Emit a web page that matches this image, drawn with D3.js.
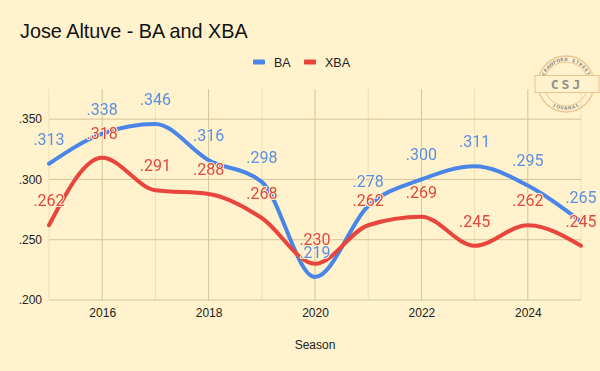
<!DOCTYPE html>
<html>
<head>
<meta charset="utf-8">
<script src="https://cdn.jsdelivr.net/npm/d3@7/dist/d3.min.js"></script>
<style>
  html, body { margin: 0; padding: 0; background: #fff2cc; }
  svg { display: block; }
</style>
</head>
<body>
<svg id="chart" width="600" height="371"></svg>
<script>
const seasons = [2015, 2016, 2017, 2018, 2019, 2020, 2021, 2022, 2023, 2024, 2025];
const baValues = [0.313, 0.338, 0.346, 0.316, 0.298, 0.219, 0.278, 0.300, 0.311, 0.295, 0.265];
const xbaValues = [0.262, 0.318, 0.291, 0.288, 0.268, 0.230, 0.262, 0.269, 0.245, 0.262, 0.245];
const xTickValues = [2016, 2018, 2020, 2022, 2024];
const yTickValues = [0.200, 0.250, 0.300, 0.350];
const seriesNames = ["BA", "XBA"];

const W = 600, H = 371;
const bg = "#fff2cc";
const colors = { BA: "#4a86e8", XBA: "#e8453c" };
const labelColors = { BA: "#5b8fe3", XBA: "#e0473d" };

const svg = d3.select("#chart");
svg.append("rect").attr("width", W).attr("height", H).attr("fill", bg);

const x = d3.scaleLinear().domain([2015, 2025]).range([49, 581]);
const y = d3.scaleLinear().domain([0.200, 0.375]).range([300, 89]);

// Minor vertical gridlines (odd years)
const minorYears = seasons.filter(s => s % 2 === 1);
svg.append("g").selectAll("line").data(minorYears).join("line")
  .attr("x1", d => x(d)).attr("x2", d => x(d))
  .attr("y1", y(0.375)).attr("y2", y(0.200))
  .attr("stroke", "#efe0b6").attr("stroke-width", 1);

// Major gridlines
svg.append("g").selectAll("line").data(xTickValues).join("line")
  .attr("x1", d => x(d)).attr("x2", d => x(d))
  .attr("y1", y(0.375)).attr("y2", y(0.200))
  .attr("stroke", "#d4c49a").attr("stroke-width", 1);
svg.append("g").selectAll("line").data(yTickValues).join("line")
  .attr("x1", x(2015)).attr("x2", x(2025))
  .attr("y1", d => y(d)).attr("y2", d => y(d))
  .attr("stroke", "#d4c49a").attr("stroke-width", 1);

// Axes using d3 axis generators
const fmt = v => d3.format(".3f")(v).replace(/^0/, "");
const yAxis = svg.append("g").attr("transform", `translate(${x(2015)},0)`)
  .call(d3.axisLeft(y).tickValues(yTickValues).tickFormat(fmt).tickSize(0).tickPadding(7));
yAxis.select(".domain").remove();
yAxis.selectAll("text").attr("font-family", "Liberation Sans, Arial, sans-serif")
  .attr("font-size", 12).attr("fill", "#222");

const xAxis = svg.append("g").attr("transform", `translate(0,${y(0.200)})`)
  .call(d3.axisBottom(x).tickValues(xTickValues).tickFormat(d3.format("d")).tickSize(0).tickPadding(8));
xAxis.select(".domain").remove();
xAxis.selectAll("text").attr("font-family", "Liberation Sans, Arial, sans-serif")
  .attr("font-size", 12).attr("fill", "#222");

svg.append("text").attr("x", (x(2015) + x(2025)) / 2).attr("y", 349)
  .attr("text-anchor", "middle")
  .attr("font-family", "Liberation Sans, Arial, sans-serif").attr("font-size", 12)
  .attr("fill", "#222").text("Season");

// Title
svg.append("text").attr("x", 20).attr("y", 38)
  .attr("font-family", "Liberation Sans, Arial, sans-serif").attr("font-size", 19.8)
  .attr("fill", "#111").text("Jose Altuve - BA and XBA");

// Legend
const legendItems = [
  { name: seriesNames[0], sx: 253, tx: 274 },
  { name: seriesNames[1], sx: 304, tx: 325 }
];
const lg = svg.append("g");
legendItems.forEach(it => {
  lg.append("rect").attr("x", it.sx).attr("y", 59.5).attr("width", 12).attr("height", 5)
    .attr("rx", 1).attr("fill", colors[it.name]);
  lg.append("text").attr("x", it.tx).attr("y", 66.5)
    .attr("font-family", "Liberation Sans, Arial, sans-serif").attr("font-size", 12.5)
    .attr("fill", "#222").text(it.name);
});

// Logo watermark
const logoInk = "#5d6370", logoLine = "#e6b07a";
const logo = svg.append("g").attr("transform", "translate(566,84)").attr("opacity", 0.7);
logo.append("circle").attr("r", 28).attr("fill", "none").attr("stroke", logoLine).attr("stroke-width", 1.3);
logo.append("circle").attr("r", 22).attr("fill", "none").attr("stroke", logoLine).attr("stroke-width", 1);
logo.append("rect").attr("x", -31).attr("y", -8.5).attr("width", 64).attr("height", 17)
  .attr("fill", bg).attr("stroke", logoLine).attr("stroke-width", 1);
logo.append("text").attr("x", 1).attr("y", 5).attr("text-anchor", "middle")
  .attr("font-family", "DejaVu Sans Mono, monospace").attr("font-weight", "bold")
  .attr("font-size", 13).attr("letter-spacing", 3).attr("fill", logoInk).text("CSJ");
const topWord = "CRAWFORD STREET".split("");
const topStep = 130 / (topWord.length - 1);
logo.append("g").selectAll("text").data(topWord).join("text")
  .attr("transform", (c, i) => {
    const t = -65 + i * topStep;
    const r = 23;
    const a = t * Math.PI / 180;
    return `translate(${r * Math.sin(a)},${-r * Math.cos(a)}) rotate(${t})`;
  })
  .attr("text-anchor", "middle")
  .attr("font-family", "DejaVu Sans, sans-serif").attr("font-size", 4.4).attr("font-weight", "bold")
  .attr("fill", logoInk).text(c => c);
const botWord = "JOURNAL".split("");
const botStep = 56 / (botWord.length - 1);
logo.append("g").selectAll("text").data(botWord).join("text")
  .attr("transform", (c, i) => {
    const t = -28 + i * botStep;
    const r = 22.5;
    const a = t * Math.PI / 180;
    return `translate(${r * Math.sin(a)},${r * Math.cos(a)}) rotate(${-t})`;
  })
  .attr("text-anchor", "middle").attr("dy", 3.2)
  .attr("font-family", "DejaVu Sans, sans-serif").attr("font-size", 4.4).attr("font-weight", "bold")
  .attr("fill", logoInk).text(c => c);

// Lines
const series = [
  { name: "BA", values: baValues },
  { name: "XBA", values: xbaValues }
];
const line = d3.line().x(d => x(d.s)).y(d => y(d.v)).curve(d3.curveMonotoneX);
series.forEach(sr => {
  const pts = seasons.map((s, i) => ({ s, v: sr.values[i] }));
  svg.append("path").datum(pts).attr("d", line)
    .attr("fill", "none").attr("stroke", colors[sr.name]).attr("stroke-width", 4)
    .attr("stroke-linecap", "round").attr("stroke-linejoin", "round");
});

// Data labels
series.forEach(sr => {
  svg.append("g").selectAll("text").data(seasons.map((s, i) => ({ s, v: sr.values[i] }))).join("text")
    .attr("x", d => x(d.s)).attr("y", d => y(d.v) - 19)
    .attr("text-anchor", "middle")
    .attr("font-family", "Roboto, sans-serif").attr("font-size", 16)
    .attr("fill", labelColors[sr.name])
    .attr("stroke", bg).attr("stroke-width", 2).attr("paint-order", "stroke")
    .text(d => fmt(d.v));
});
</script>
</body>
</html>
